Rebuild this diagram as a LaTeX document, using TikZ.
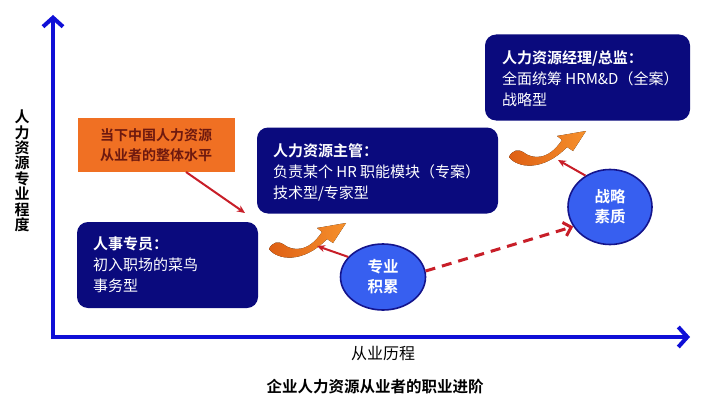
\documentclass[tikz,border=0pt]{standalone}
\usepackage{fontspec}
\newfontfamily\cjk{Noto Sans CJK SC}[BoldFont={* Bold}]
\usetikzlibrary{arrows.meta,shapes.geometric}
\definecolor{navy}{RGB}{10,10,125}
\definecolor{axisblue}{RGB}{15,15,215}
\definecolor{circfill}{RGB}{55,95,240}
\definecolor{circedge}{RGB}{20,20,140}
\definecolor{orbox}{RGB}{240,112,35}
\definecolor{ortext}{RGB}{110,25,15}
\definecolor{redarr}{RGB}{200,30,40}
\definecolor{swA}{RGB}{222,95,20}
\definecolor{swB}{RGB}{246,145,45}
\tikzset{
  card/.style={fill=navy, rounded corners=11pt, minimum height=86pt, inner sep=0pt},
  cardtext/.style={text=white, align=left, anchor=west, inner sep=0pt,
    font=\cjk\fontsize{15}{21}\selectfont},
  bubble/.style={ellipse, fill=circfill, draw=circedge, line width=1.6pt,
    text=white, align=center, inner sep=0pt,
    font=\cjk\bfseries\fontsize{15.5}{20}\selectfont},
  axisline/.style={axisblue, line width=4pt, line join=miter,
    {Straight Barb[length=9pt,width=20pt,line width=4pt]}-{Straight Barb[length=9pt,width=20pt,line width=4pt]}},
  redthin/.style={redarr, line width=2pt, -{Stealth[length=8pt,width=7pt]}},
  reddash/.style={redarr, line width=3pt, dash pattern=on 10pt off 7pt,
    -{Straight Barb[length=7pt,width=14pt,line width=3pt]}},
  swoosh/.pic={
    \fill[left color=swA, right color=swB]
      (0,27) .. controls (8,38) and (34,42) .. (58,17) -- (64,21) -- (77,1)
      -- (48,6) -- (53,10) .. controls (40,30) and (24,30) .. (14,22)
      .. controls (10,19) and (3,20) .. (0,27) -- cycle;
  }
}
\begin{document}
\begin{tikzpicture}[x=1pt,y=-1pt]
\useasboundingbox[fill=white] (0,0) rectangle (708,401);

% axes
\coordinate (ytip) at (53,15);
\coordinate (orig) at (53,337);
\coordinate (xtip) at (690,337);
\draw[axisline] (ytip) -- (orig) -- (xtip);

% axis labels
\node[font=\cjk\bfseries\fontsize{15}{15.4}\selectfont, align=center, inner sep=0pt]
  (ylab) at (22,171) {人\\力\\资\\源\\专\\业\\程\\度};
\node[font=\cjk\fontsize{16}{18}\selectfont, inner sep=0pt] (xlab) at (383,353) {从业历程};
\node[font=\cjk\bfseries\fontsize{15.5}{18}\selectfont, inner sep=0pt] (cap) at (375,387) {企业人力资源从业者的职业进阶};

% cards
\node[card, minimum width=181pt] (c1) at (167.5,265) {};
\node[cardtext, xshift=16pt] (t1) at (c1.west)
  {\textbf{人事专员：}\\初入职场的菜鸟\\事务型};
\node[card, minimum width=241pt] (c2) at (377.5,170.5) {};
\node[cardtext, xshift=16pt, yshift=-1.5pt] (t2) at (c2.west)
  {\textbf{人力资源主管：}\\负责某个 HR 职能模块（专案）\\技术型/专家型};
\node[card, minimum width=205pt] (c3) at (587.5,77.5) {};
\node[cardtext, xshift=17pt, yshift=-1pt] (t3) at (c3.west)
  {\textbf{人力资源经理/总监：}\\全面统筹 HRM\&D（全案）\\战略型};

% orange note
\node[fill=orbox, text=ortext, minimum width=157pt, minimum height=54pt, align=center,
  font=\cjk\bfseries\fontsize{14}{20}\selectfont, inner sep=0pt] (note) at (156,145)
  {当下中国人力资源\\从业者的整体水平};
\coordinate (noteout) at (186,172);
\coordinate (notein) at (245,213);
\draw[redthin] (noteout) -- (notein);

% swooshes
\pic (sw1) at (269,222) {swoosh};
\pic (sw2) at (509,130) {swoosh};

% bubbles
\node[bubble, minimum width=85pt, minimum height=66pt] (zy) at (383,277) {专业\\积累};
\node[bubble, minimum width=84pt, minimum height=75pt] (zl) at (610,207) {战略\\素质};

\coordinate (sw1in) at (317,246);
\coordinate (sw2in) at (558,160);
\draw[redthin] (zy.150) -- (sw1in);
\draw[redthin] (zl.128) -- (sw2in);
\draw[reddash] (zy.8) -- (zl.208);
\end{tikzpicture}
\end{document}
